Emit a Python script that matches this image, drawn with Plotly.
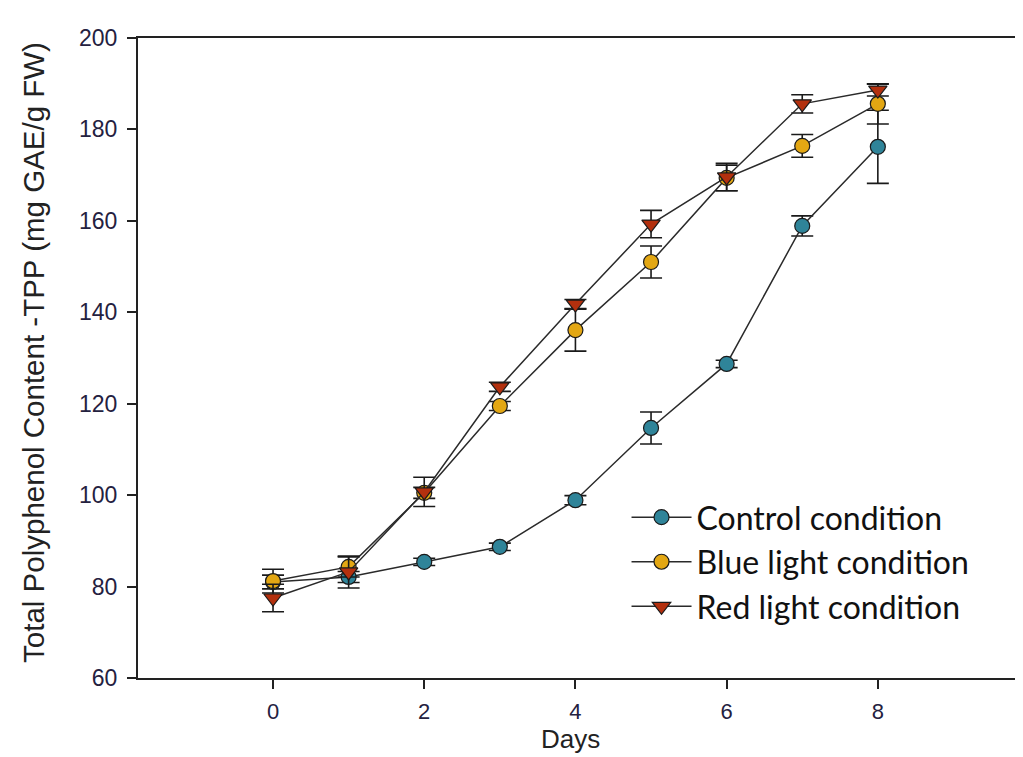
import plotly.graph_objects as go

days = [0, 1, 2, 3, 4, 5, 6, 7, 8]
control = [81.0, 82.1, 85.4, 88.7, 98.9, 114.7, 128.7, 158.9, 176.2]
control_err = [1.5, 1.2, 0.8, 0.8, 1.0, 3.5, 0.8, 2.2, 8.0]
blue = [81.2, 84.3, 100.5, 119.5, 136.1, 151.0, 169.4, 176.4, 185.6]
blue_err = [2.6, 2.2, 1.2, 1.0, 4.6, 3.5, 2.8, 2.5, 4.4]
red = [77.5, 83.2, 100.7, 123.7, 141.8, 159.3, 169.6, 185.6, 188.6]
red_err = [3.0, 3.5, 3.2, 1.0, 1.0, 3.0, 3.0, 2.0, 1.3]

series_names = ["Control condition", "Blue light condition", "Red light condition"]
x_ticks = [0, 2, 4, 6, 8, 10]
y_ticks = [60, 80, 100, 120, 140, 160, 180, 200]

line_col = "#2a2a2a"

fig = go.Figure()

specs = [
    (control, control_err, series_names[0], "#2f8499", "circle", 15),
    (blue, blue_err, series_names[1], "#e3a713", "circle", 15),
    (red, red_err, series_names[2], "#b3300e", "triangle-down", 16),
]
for vals, errs, name, col, sym, sz in specs:
    fig.add_trace(go.Scatter(
        x=days, y=vals, name=name, mode="lines+markers",
        line=dict(color=line_col, width=1.5),
        marker=dict(symbol=sym, size=sz, color=col, line=dict(color="#1a1a1a", width=1.2)),
        error_y=dict(type="data", array=errs, visible=True, color="#1a1a1a", thickness=1.6, width=11),
    ))

fig.update_layout(
    width=1015, height=749,
    margin=dict(l=130, r=0, t=30, b=79),
    paper_bgcolor="white", plot_bgcolor="white",
    showlegend=True,
    legend=dict(
        x=0.552, y=0.294, xanchor="left", yanchor="top",
        bgcolor="rgba(0,0,0,0)",
        font=dict(family="Lato, 'Open Sans', sans-serif", size=32, color="#111"),
        itemwidth=60, tracegroupgap=0,
    ),
    xaxis=dict(
        range=[-1.786, 9.92], tickvals=x_ticks,
        showline=True, linecolor="#222", linewidth=2, mirror=True,
        ticks="outside", ticklen=9, tickwidth=1.5, tickcolor="#222",
        showgrid=False, zeroline=False, ticklabelstandoff=4,
        tickfont=dict(family="'Liberation Sans', Arial", size=22, color="#24213f"),
    ),
    yaxis=dict(
        range=[60, 200], tickvals=y_ticks,
        showline=True, linecolor="#222", linewidth=2,
        ticks="outside", ticklen=9, tickwidth=1.5, tickcolor="#222",
        showgrid=False, zeroline=False, ticklabelstandoff=5,
        tickfont=dict(family="'Liberation Sans', Arial", size=23, color="#24213f"),
    ),
    annotations=[
        dict(
            text="Days", x=0.489, y=-0.068, xref="paper", yref="paper",
            xanchor="center", yanchor="top", showarrow=False,
            font=dict(family="'Liberation Sans', Arial", size=26, color="#222"),
        ),
        dict(
            text="Total Polyphenol Content -TPP (mg GAE/g FW)", textangle=-90,
            x=-0.1175, y=0.508, xref="paper", yref="paper",
            xanchor="center", yanchor="middle", showarrow=False,
            font=dict(family="'Liberation Sans', Arial", size=29.5, color="#222"),
        ),
    ],
)

fig.write_html("out.html")
